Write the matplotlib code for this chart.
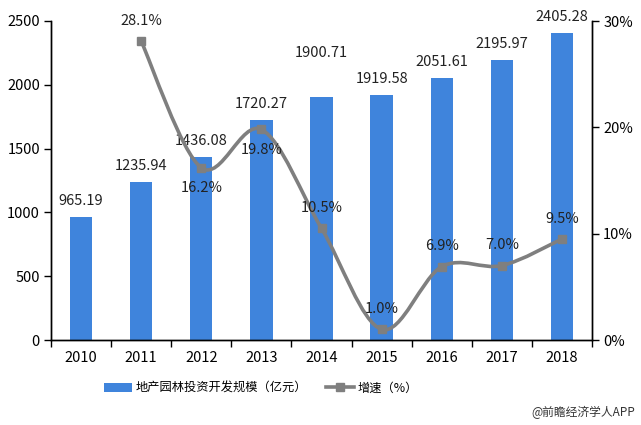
import matplotlib
matplotlib.use("Agg")
import matplotlib.pyplot as plt
import numpy as np
from matplotlib.path import Path
from matplotlib.patches import PathPatch, Patch
from matplotlib.lines import Line2D

plt.rcParams['font.family'] = ['Noto Sans CJK SC', 'DejaVu Sans']

years = ["2010", "2011", "2012", "2013", "2014", "2015", "2016", "2017", "2018"]
scale = [965.19, 1235.94, 1436.08, 1720.27, 1900.71, 1919.58, 2051.61, 2195.97, 2405.28]
growth_years = ["2011", "2012", "2013", "2014", "2015", "2016", "2017", "2018"]
growth = [28.1, 16.2, 19.8, 10.5, 1.0, 6.9, 7.0, 9.5]
growth_label_below = ["2012", "2013"]

bar_color = "#3F84DC"
line_color = "#7F7F7F"

fig = plt.figure(figsize=(6.41, 4.25), dpi=100)
ax = fig.add_axes([51/641, 1-340/425, (592-51)/641, (340-21)/425])
ax2 = ax.twinx()

x = np.arange(len(years))
ax.bar(x, scale, width=0.37, color=bar_color, zorder=2)
ax.set_xlim(-0.5, len(years)-0.5)
ax.set_ylim(0, 2500)
ax.set_yticks([0, 500, 1000, 1500, 2000, 2500])
ax.set_xticks(x)
ax.set_xticklabels(years)
ax.set_xticks(np.arange(len(years)+1)-0.5, minor=True)
ax.tick_params(axis='x', which='major', length=0, labelsize=10.5, pad=8)
ax.tick_params(axis='x', which='minor', length=5, width=1)
ax.tick_params(axis='y', length=5, width=1, labelsize=10.5, pad=3)

for i, v in enumerate(scale):
    off = 6.5
    if years[i] == "2014":
        off = 27
    ax.annotate(f"{v:.2f}", (x[i], v), xytext=(0, off), textcoords='offset points',
                ha='center', va='bottom', fontsize=10.5, color='#222222')

for a in (ax, ax2):
    a.spines['top'].set_visible(False)
    for s in ['left', 'right', 'bottom']:
        a.spines[s].set_color('black')
        a.spines[s].set_linewidth(1)

ax2.set_ylim(0, 30)
ax2.set_yticks([0, 10, 20, 30])
ax2.set_yticklabels(["0%", "10%", "20%", "30%"])
ax2.tick_params(axis='y', length=5, width=1, labelsize=10.5, pad=3)

gx = np.array([years.index(y) for y in growth_years], dtype=float)
gy = np.array(growth, dtype=float)
pts = np.column_stack([gx, gy])
verts = [pts[0]]
codes = [Path.MOVETO]
n = len(pts)
for i in range(n-1):
    p0 = pts[i-1] if i > 0 else pts[i]
    p1 = pts[i]
    p2 = pts[i+1]
    p3 = pts[i+2] if i+2 < n else pts[i+1]
    c1 = p1 + (p2 - p0)/6.0
    c2 = p2 - (p3 - p1)/6.0
    verts += [c1, c2, p2]
    codes += [Path.CURVE4]*3
path = Path(verts, codes)
ax2.add_patch(PathPatch(path, fill=False, edgecolor=line_color, lw=2.6, zorder=3))
ax2.plot(gx, gy, linestyle='none', marker='s', markersize=6, color=line_color, zorder=4)

for yr, xi, v in zip(growth_years, gx, gy):
    if yr in growth_label_below:
        ax2.annotate(f"{v:.1f}%", (xi, v), xytext=(0, -9.5), textcoords='offset points',
                     ha='center', va='top', fontsize=10.5, color='#222222')
    else:
        ax2.annotate(f"{v:.1f}%", (xi, v), xytext=(0, 9.5), textcoords='offset points',
                     ha='center', va='bottom', fontsize=10.5, color='#222222')

handles = [Patch(facecolor=bar_color, edgecolor='none'),
           Line2D([0], [0], color=line_color, lw=2.6, marker='s', markersize=6)]
fig.legend(handles, ["地产园林投资开发规模（亿元）", "增速（%）"], loc='center',
           bbox_to_anchor=(261/641, 1-388/425), ncol=2, frameon=False, fontsize=8.8,
           handlelength=2.3, handleheight=0.8, columnspacing=1.5, handletextpad=0.3)

fig.text(635/641, 1-412/425, "@前瞻经济学人APP", ha='right', va='center', fontsize=8.5, color='#333333')

fig.savefig("out.png", dpi=100)
